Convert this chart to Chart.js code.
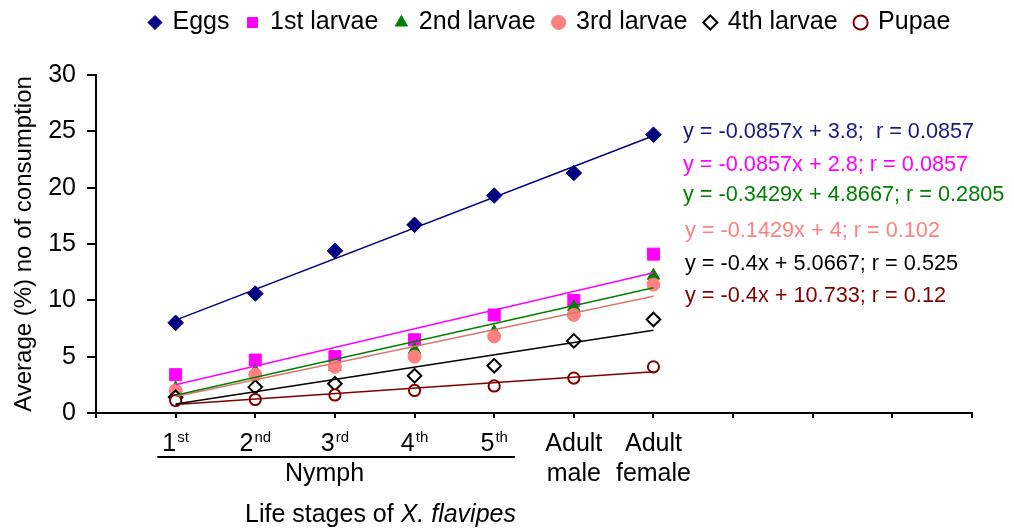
<!DOCTYPE html>
<html><head><meta charset="utf-8">
<script src="https://cdn.jsdelivr.net/npm/chart.js@4/dist/chart.umd.min.js"></script>
<style>html,body{margin:0;padding:0;background:#fff;} canvas{display:block;}</style>
</head><body>
<canvas id="c" width="1014" height="531"></canvas>
<script>
// ---- data ----
const stageX = [1, 2, 3, 4, 5, 6, 7];
const stageMain = ['1', '2', '3', '4', '5', 'Adult', 'Adult'];
const stageSup = ['st', 'nd', 'rd', 'th', 'th', '', ''];
const stageLine2 = ['', '', '', '', '', 'male', 'female'];
const groupLabel = 'Nymph';
const xTitleNormal = 'Life stages of ';
const xTitleItalic = 'X. flavipes';
const yTitle = 'Average (%) no of consumption';
const seriesNames = ['Eggs', '1st larvae', '2nd larvae', '3rd larvae', '4th larvae', 'Pupae'];
const eggs    = [8.0, 10.6, 14.4, 16.7, 19.3, 21.3, 24.7];
const larvae1 = [3.4, 4.7, 5.0, 6.5, 8.7, 10.0, 14.1];
const larvae2 = [2.2, 3.7, 4.1, 5.6, 7.2, 9.4, 12.2];
const larvae3 = [2.0, 3.4, 4.1, 5.0, 6.8, 8.7, 11.4];
const larvae4 = [1.4, 2.3, 2.6, 3.3, 4.2, 6.4, 8.3];
const pupae   = [1.1, 1.2, 1.6, 2.0, 2.4, 3.1, 4.1];
const equations = [
  'y = -0.0857x + 3.8;  r = 0.0857',
  'y = -0.0857x + 2.8; r = 0.0857',
  'y = -0.3429x + 4.8667; r = 0.2805',
  'y = -0.1429x + 4; r = 0.102',
  'y = -0.4x + 5.0667; r = 0.525',
  'y = -0.4x + 10.733; r = 0.12'
];

// ---- styles ----
const colors = ['#000080', '#FF00FF', '#008000', '#FF8080', '#000000', '#800000'];
const trendColors = ['#000080', '#FF00FF', '#008000', '#D6786E', '#000000', '#800000'];
const eqColors = ['#1a1a80', '#FF00FF', '#008000', '#FF8080', '#000000', '#800000'];
const FONT = '"Liberation Sans", Arial, Helvetica, sans-serif';
Chart.defaults.font.family = FONT;
Chart.defaults.color = '#000';

const allSeries = [eggs, larvae1, larvae2, larvae3, larvae4, pupae];
const toXY = ys => ys.map((y, i) => ({x: stageX[i], y}));
function trend(ys) {
  const n = ys.length;
  const mx = stageX.reduce((a, b) => a + b, 0) / n;
  const my = ys.reduce((a, b) => a + b, 0) / n;
  let sxy = 0, sxx = 0;
  ys.forEach((y, i) => { sxy += (stageX[i] - mx) * (y - my); sxx += (stageX[i] - mx) ** 2; });
  const b = sxy / sxx, a = my - b * mx;
  const x0 = stageX[0], x1 = stageX[n - 1];
  return [{x: x0, y: a + b * x0}, {x: x1, y: a + b * x1}];
}

const markerStyles = [
  {pointStyle: 'rectRot', pointRadius: 7.8, pointBackgroundColor: colors[0], pointBorderColor: colors[0], pointBorderWidth: 1},
  {pointStyle: 'rect', pointRadius: 8.5, pointBackgroundColor: colors[1], pointBorderColor: colors[1], pointBorderWidth: 1},
  {pointStyle: 'triangle', pointRadius: 7.2, pointBackgroundColor: colors[2], pointBorderColor: colors[2], pointBorderWidth: 1},
  {pointStyle: 'circle', pointRadius: 6.5, pointBackgroundColor: colors[3], pointBorderColor: colors[3], pointBorderWidth: 1},
  {pointStyle: 'rectRot', pointRadius: 6.8, pointBackgroundColor: '#ffffff', pointBorderColor: colors[4], pointBorderWidth: 2},
  {pointStyle: 'circle', pointRadius: 5.6, pointBackgroundColor: '#ffffff', pointBorderColor: colors[5], pointBorderWidth: 2}
];

const datasets = [];
allSeries.forEach((ys, i) => {
  datasets.push(Object.assign({
    label: seriesNames[i], data: toXY(ys), showLine: false,
    backgroundColor: markerStyles[i].pointBackgroundColor,
    borderColor: markerStyles[i].pointBorderColor,
    borderWidth: markerStyles[i].pointBorderWidth,
    order: 6 - i + 1
  }, markerStyles[i]));
});
allSeries.forEach((ys, i) => {
  datasets.push({
    label: seriesNames[i] + ' trend', data: trend(ys), showLine: true,
    pointRadius: 0, borderColor: trendColors[i], borderWidth: 1.5, order: 0
  });
});

const annotPlugin = {
  id: 'annot',
  afterLayout(chart) {
    const lg = chart.legend;
    if (lg) {
      const h = lg.bottom - lg.top;
      lg.left = 132; lg.right = 1014;
      lg.top = -8; lg.bottom = lg.top + h;
    }
  },
  afterDraw(chart) {
    const ctx = chart.ctx, xs = chart.scales.x, bottom = chart.chartArea.bottom;
    ctx.save();
    ctx.fillStyle = '#000';
    ctx.textBaseline = 'alphabetic';
    stageMain.forEach((m, i) => {
      const px = xs.getPixelForValue(stageX[i]);
      ctx.font = '25px ' + FONT;
      const wm = ctx.measureText(m).width;
      const sup = stageSup[i];
      ctx.font = '15px ' + FONT;
      const ws = sup ? ctx.measureText(sup).width + 1 : 0;
      const x0 = px - (wm + ws) / 2;
      ctx.textAlign = 'left';
      ctx.font = '25px ' + FONT;
      ctx.fillText(m, x0, bottom + 38);
      if (sup) { ctx.font = '15px ' + FONT; ctx.fillText(sup, x0 + wm + 1, bottom + 29); }
      if (stageLine2[i]) {
        ctx.font = '25px ' + FONT; ctx.textAlign = 'center';
        ctx.fillText(stageLine2[i], px, bottom + 68);
      }
    });
    // nymph underline and label
    ctx.strokeStyle = '#000'; ctx.lineWidth = 2;
    ctx.beginPath();
    ctx.moveTo(xs.getPixelForValue(0.77), bottom + 44);
    ctx.lineTo(xs.getPixelForValue(5.26), bottom + 44);
    ctx.stroke();
    ctx.font = '25px ' + FONT; ctx.textAlign = 'center';
    ctx.fillText(groupLabel, xs.getPixelForValue(2.87), bottom + 68);
    // x title
    ctx.textAlign = 'left';
    ctx.font = '25px ' + FONT;
    const tx = 245, ty = bottom + 109;
    ctx.fillText(xTitleNormal, tx, ty);
    const w1 = ctx.measureText(xTitleNormal).width;
    ctx.font = 'italic 25px ' + FONT;
    ctx.fillText(xTitleItalic, tx + w1, ty);
    // equations
    ctx.font = '21.7px ' + FONT;
    const eqX = [683, 683, 683, 685, 685, 685];
    const eqY = [138, 171, 201, 237, 270, 302];
    equations.forEach((t, i) => {
      ctx.fillStyle = eqColors[i];
      ctx.fillText(t, eqX[i], eqY[i]);
    });
    ctx.restore();
  }
};

new Chart(document.getElementById('c'), {
  type: 'scatter',
  data: {datasets},
  plugins: [annotPlugin],
  options: {
    responsive: false, animation: false, events: [],
    layout: {padding: {top: 22, right: 42, bottom: 0, left: 0}},
    plugins: {
      legend: {
        display: true, position: 'top', align: 'start',
        labels: {
          usePointStyle: true, boxWidth: 10, boxHeight: 10, padding: 18,
          color: '#000', font: {size: 25},
          filter: item => item.datasetIndex < 6,
          sort: (a, b) => a.datasetIndex - b.datasetIndex
        }
      },
      tooltip: {enabled: false}
    },
    scales: {
      x: {
        type: 'linear', min: 0, max: 11,
        ticks: {stepSize: 1, display: false},
        grid: {drawOnChartArea: false, drawTicks: true, tickLength: 5, color: '#000', lineWidth: 2},
        border: {display: true, color: '#000', width: 2},
        afterFit(s) { s.height = 118; }
      },
      y: {
        type: 'linear', min: 0, max: 30,
        ticks: {stepSize: 5, color: '#000', font: {size: 25}, padding: 11},
        grid: {drawOnChartArea: false, drawTicks: true, tickLength: 9, color: '#000', lineWidth: 2},
        border: {display: true, color: '#000', width: 2},
        title: {display: true, text: yTitle, color: '#000', font: {size: 24}, padding: {top: 10, bottom: 0}},
        afterFit(s) { s.width = 96; }
      }
    }
  }
});
</script>
</body></html>
